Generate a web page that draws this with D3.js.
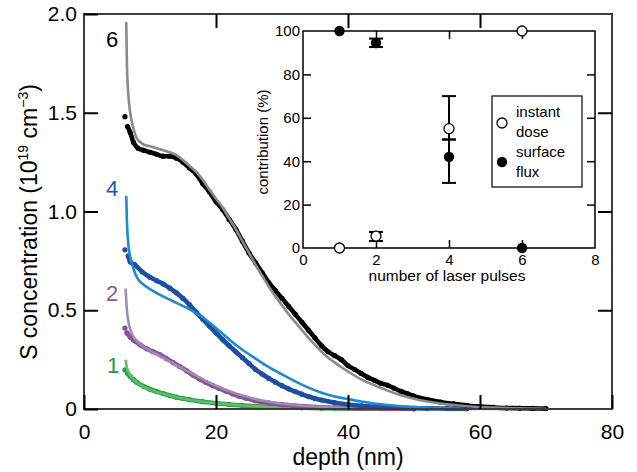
<!DOCTYPE html>
<html><head><meta charset="utf-8">
<script src="https://cdn.jsdelivr.net/npm/d3@7"></script>
<style>body{margin:0;background:#fff}svg{display:block;font-family:"Liberation Sans",Arial,sans-serif}</style>
</head><body><svg id="c" width="637" height="472"></svg>
<script>
// ---- main chart data: [depth (nm), S concentration (1e19 cm^-3)]
const data6 = [[6.2,1.48],[6.6,1.43],[7.0,1.40],[7.5,1.35],[8.2,1.32],[9,1.31],[10,1.30],[11,1.29],[12,1.28],[13,1.28],[14,1.27],[15,1.25],[16,1.22],[17,1.19],[18,1.14],[19,1.10],[20,1.05],[21,1.01],[22,0.96],[23,0.91],[24,0.85],[25,0.79],[26,0.74],[27,0.69],[28,0.64],[29,0.60],[30,0.56],[31,0.52],[32,0.48],[33,0.44],[34,0.40],[35,0.36],[36,0.32],[37,0.29],[38,0.27],[39,0.25],[40,0.22],[41,0.20],[42,0.18],[43,0.16],[44,0.145],[45,0.13],[46,0.12],[47,0.105],[48,0.09],[49,0.078],[50,0.065],[52,0.048],[54,0.035],[56,0.026],[58,0.018],[60,0.012],[62,0.008],[64,0.005],[66,0.004],[68,0.003],[70,0.002]];
const fit6 = [[6.4,1.96],[6.5,1.75],[6.7,1.60],[7.0,1.50],[7.5,1.42],[8,1.37],[9,1.34],[10,1.33],[11,1.32],[12,1.31],[13,1.30],[14,1.285],[15,1.26],[16,1.23],[17,1.20],[18,1.16],[19,1.11],[20,1.065],[21,1.02],[22,0.965],[23,0.91],[24,0.85],[25,0.79],[26,0.73],[27,0.675],[28,0.62],[29,0.57],[30,0.525],[31,0.48],[32,0.44],[33,0.40],[34,0.36],[35,0.325],[36,0.29],[37,0.26],[38,0.235],[40,0.19],[42,0.15],[44,0.12],[46,0.093],[48,0.07],[50,0.052],[52,0.038],[55,0.024],[58,0.014],[62,0.007],[66,0.003],[70,0.001]];
const data4 = [[6.2,0.806],[6.7,0.776],[7.0,0.745],[7.7,0.73],[8.8,0.695],[10,0.667],[11,0.65],[12,0.633],[13,0.612],[14,0.588],[15,0.56],[16,0.527],[17,0.49],[18,0.455],[19,0.42],[20,0.385],[21,0.352],[22,0.32],[23,0.29],[24,0.26],[25,0.23],[26,0.2],[27,0.177],[28,0.155],[29,0.136],[30,0.118],[31,0.102],[32,0.088],[33,0.075],[34,0.063],[35,0.053],[36,0.045],[38,0.032],[40,0.023],[42,0.016],[44,0.011],[46,0.008],[48,0.006],[50,0.004],[52,0.003],[55,0.002],[58,0.001]];
const fit4 = [[6.4,1.08],[6.5,0.95],[6.7,0.84],[7.0,0.77],[7.5,0.71],[8,0.668],[9,0.63],[10,0.607],[12,0.57],[14,0.537],[16,0.505],[18,0.463],[20,0.41],[22,0.352],[24,0.30],[26,0.255],[28,0.212],[30,0.175],[32,0.14],[34,0.108],[36,0.082],[38,0.063],[40,0.05],[42,0.038],[44,0.028],[46,0.02],[50,0.01],[55,0.004],[60,0.002],[65,0.001]];
const data2 = [[6.2,0.41],[6.5,0.385],[7,0.365],[7.5,0.35],[8.5,0.325],[9.5,0.305],[10.5,0.29],[11.5,0.275],[12.5,0.255],[13.5,0.235],[14.5,0.215],[15.5,0.195],[16.5,0.172],[17.5,0.152],[18.5,0.134],[19.5,0.118],[20.5,0.104],[21.5,0.09],[22.5,0.077],[23.5,0.065],[24.5,0.055],[26,0.042],[28,0.03],[30,0.022],[32,0.016],[35,0.01],[38,0.006],[42,0.003],[46,0.002],[50,0.001]];
const fit2 = [[6.3,0.61],[6.5,0.50],[6.8,0.43],[7.2,0.385],[8,0.345],[9,0.315],[10,0.295],[12,0.26],[14,0.222],[16,0.185],[18,0.15],[20,0.118],[22,0.09],[24,0.068],[26,0.05],[28,0.037],[30,0.027],[34,0.015],[38,0.008],[45,0.003],[55,0.001],[65,0.0]];
const data1 = [[6.2,0.198],[6.6,0.18],[7,0.165],[7.5,0.148],[8,0.135],[9,0.115],[10,0.1],[11,0.088],[12,0.078],[13,0.068],[14,0.06],[15,0.053],[16,0.047],[18,0.037],[20,0.029],[22,0.023],[24,0.018],[26,0.014],[28,0.011],[30,0.009],[33,0.006],[36,0.004],[40,0.003],[45,0.002],[50,0.001]];
const fit1 = [[6.3,0.25],[6.5,0.21],[7,0.17],[8,0.135],[9,0.113],[10,0.098],[12,0.077],[14,0.06],[16,0.047],[18,0.037],[20,0.029],[24,0.018],[28,0.011],[32,0.007],[38,0.004],[45,0.002],[55,0.001]];
const seriesNames = ["1","2","4","6"];
const xTicks = [0,20,40,60,80];
const yTicks = [0,0.5,1.0,1.5,2.0];
// ---- inset data
const pulses = [1,2,4,6];
const instantDose = [0,5.5,55,100];
const instantErr = [null,[3.2,7.4],[50,70],null];
const surfaceFlux = [100,94.5,42,0];
const surfaceErr = [null,[92.6,96.5],[30,50],null];
const insetXTicks = [0,2,4,6,8];
const insetYTicks = [0,20,40,60,80,100];

const svg = d3.select("#c");
const x = d3.scaleLinear().domain([0,80]).range([84,612]);
const y = d3.scaleLinear().domain([0,2]).range([409,14]);

const styles = {
  "1": {data:"#2a9e48", fit:"#5dbf6a", label:"#1a9a4a", d:data1, f:fit1, lx:113, ly:365},
  "2": {data:"#8c4e92", fit:"#9b8cb6", label:"#8e5a94", d:data2, f:fit2, lx:112, ly:293},
  "4": {data:"#1c4fa2", fit:"#1f8ad4", label:"#1a5bb0", d:data4, f:fit4, lx:112, ly:188},
  "6": {data:"#000000", fit:"#8a8a8a", label:"#000000", d:data6, f:fit6, lx:112, ly:39}
};

const line = d3.line().x(p=>x(p[0])).y(p=>y(p[1])).curve(d3.curveMonotoneX);
const plot = svg.append("g");
seriesNames.forEach(k=>{
  const s = styles[k];
  const g = plot.append("g");
  g.append("path").attr("d", line(s.d.slice(1))).attr("fill","none")
    .attr("stroke", s.data).attr("stroke-width",4.6).attr("stroke-linecap","round");
  g.selectAll("circle").data(s.d).join("circle")
    .attr("cx",p=>x(p[0])).attr("cy",p=>y(p[1])).attr("r",2.6).attr("fill",s.data);
  g.append("path").attr("d", line(s.f)).attr("fill","none")
    .attr("stroke", s.fit).attr("stroke-width",2.6);
  svg.append("text").attr("x",s.lx).attr("y",s.ly+8).attr("text-anchor","middle")
    .attr("font-size",22).attr("fill",s.label).text(k);
});

// frame
svg.append("rect").attr("x",84).attr("y",14).attr("width",528).attr("height",395)
  .attr("fill","none").attr("stroke","#3c3c3c").attr("stroke-width",2);

function styleAxis(g, fs){
  g.select(".domain").remove();
  g.selectAll(".tick line").attr("stroke","#000").attr("stroke-width",2);
  g.selectAll(".tick text").attr("font-size",fs).attr("fill","#000")
   .attr("font-family","'Liberation Sans',Arial,sans-serif");
}
const fmtY = v => v===0 ? "0" : d3.format(".1f")(v);
svg.append("g").attr("transform","translate(0,409)")
  .call(d3.axisBottom(x).tickValues(xTicks).tickSize(-14).tickPadding(15))
  .call(g=>styleAxis(g,21));
svg.append("g").attr("transform","translate(0,14)")
  .call(d3.axisTop(x).tickValues(xTicks.slice(1,4)).tickSize(-14).tickFormat(""))
  .call(g=>styleAxis(g,21));
svg.append("g").attr("transform","translate(84,0)")
  .call(d3.axisLeft(y).tickValues(yTicks).tickSize(-14).tickPadding(7).tickFormat(fmtY))
  .call(g=>styleAxis(g,21));
svg.append("g").attr("transform","translate(612,0)")
  .call(d3.axisRight(y).tickValues(yTicks.slice(1,4)).tickSize(-14).tickFormat(""))
  .call(g=>styleAxis(g,21));

svg.append("text").attr("x",(84+612)/2).attr("y",465).attr("text-anchor","middle")
  .attr("font-size",23).text("depth (nm)");
const yt = svg.append("text").attr("transform","translate(37,222) rotate(-90)")
  .attr("text-anchor","middle").attr("font-size",23);
yt.append("tspan").text("S concentration (10");
yt.append("tspan").attr("font-size",14).attr("dy",-9).text("19");
yt.append("tspan").attr("dy",9).text(" cm");
yt.append("tspan").attr("font-size",14).attr("dy",-9).text("\u22123");
yt.append("tspan").attr("dy",9).text(")");

// ---- inset
const ix = d3.scaleLinear().domain([0,8]).range([303,595]);
const iy = d3.scaleLinear().domain([0,100]).range([248,31]);
const ins = svg.append("g");
ins.append("rect").attr("x",303).attr("y",31).attr("width",292).attr("height",217)
  .attr("fill","#fff").attr("stroke","#000").attr("stroke-width",1.5);
function styleInset(g){
  g.select(".domain").remove();
  g.selectAll(".tick line").attr("stroke","#000").attr("stroke-width",1.5);
  g.selectAll(".tick text").attr("font-size",15).attr("fill","#000")
   .attr("font-family","'Liberation Sans',Arial,sans-serif");
}
ins.append("g").attr("transform","translate(0,248)")
  .call(d3.axisBottom(ix).tickValues(insetXTicks).tickSize(-8).tickPadding(6))
  .call(styleInset).call(g=>g.selectAll(".tick line").filter(d=>d===0||d===8).remove());
ins.append("g").attr("transform","translate(0,31)")
  .call(d3.axisTop(ix).tickValues(insetXTicks.slice(1,4)).tickSize(-8).tickFormat(""))
  .call(styleInset);
ins.append("g").attr("transform","translate(303,0)")
  .call(d3.axisLeft(iy).tickValues(insetYTicks).tickSize(-8).tickPadding(3))
  .call(styleInset).call(g=>g.selectAll(".tick line").filter(d=>d===0||d===100).remove());
ins.append("g").attr("transform","translate(595,0)")
  .call(d3.axisRight(iy).tickValues(insetYTicks.slice(1,5)).tickSize(-8).tickFormat(""))
  .call(styleInset);
ins.append("text").attr("x",447).attr("y",281).attr("text-anchor","middle")
  .attr("font-size",15.5).text("number of laser pulses");
ins.append("text").attr("transform","translate(268,142) rotate(-90)")
  .attr("text-anchor","middle").attr("font-size",15).text("contribution (%)");

// error bars
function errBars(errs){
  errs.forEach((e,i)=>{
    if(!e) return;
    const cx = ix(pulses[i]);
    ins.append("line").attr("x1",cx).attr("x2",cx).attr("y1",iy(e[0])).attr("y2",iy(e[1]))
      .attr("stroke","#000").attr("stroke-width",2);
    e.forEach(v=>ins.append("line").attr("x1",cx-7).attr("x2",cx+7).attr("y1",iy(v)).attr("y2",iy(v))
      .attr("stroke","#000").attr("stroke-width",2));
  });
}
errBars(instantErr); errBars(surfaceErr);
ins.selectAll("circle.sf").data(pulses).join("circle").attr("class","sf")
  .attr("cx",d=>ix(d)).attr("cy",(d,i)=>iy(surfaceFlux[i])).attr("r",5.2).attr("fill","#000");
ins.selectAll("circle.id").data(pulses).join("circle").attr("class","id")
  .attr("cx",d=>ix(d)).attr("cy",(d,i)=>iy(instantDose[i])).attr("r",5)
  .attr("fill","#fff").attr("stroke","#000").attr("stroke-width",1.3);

// legend
const lg = ins.append("g");
lg.append("rect").attr("x",492).attr("y",96).attr("width",90).attr("height",91)
  .attr("fill","#fff").attr("stroke","#000").attr("stroke-width",1.2);
lg.append("circle").attr("cx",502).attr("cy",123).attr("r",5).attr("fill","#fff")
  .attr("stroke","#000").attr("stroke-width",1.3);
lg.append("circle").attr("cx",502).attr("cy",162).attr("r",5.2).attr("fill","#000");
[["instant",117],["dose",137],["surface",157],["flux",177]].forEach(t=>
  lg.append("text").attr("x",516).attr("y",t[1]).attr("font-size",15).text(t[0]));
</script></body></html>
